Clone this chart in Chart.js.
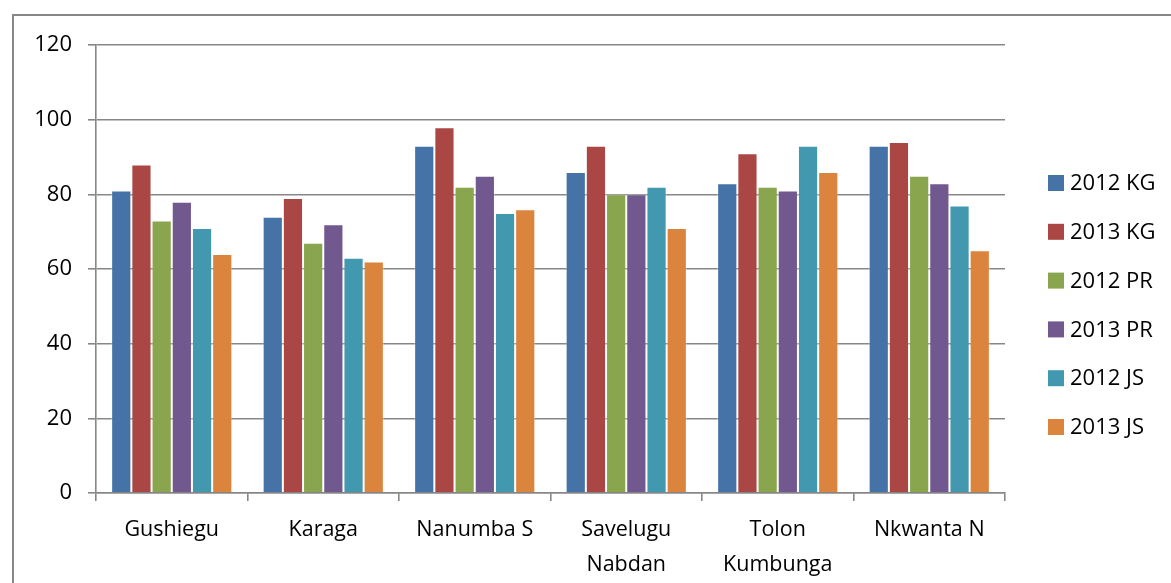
<!DOCTYPE html>
<html>
<head>
<meta charset="utf-8">
<script src="https://cdn.jsdelivr.net/npm/chart.js@4/dist/chart.umd.min.js"></script>
<style>
  html, body { margin: 0; padding: 0; background: #fff; }
  #wrap { width: 1171px; height: 583px; position: relative; }
</style>
</head>
<body>
<div id="wrap"><canvas id="c" width="1171" height="583"></canvas></div>
<script>
// District names (multi-line where the label wraps)
const districts = [
  'Gushiegu',
  'Karaga',
  'Nanumba S',
  ['Savelugu', 'Nabdan'],
  ['Tolon', 'Kumbunga'],
  'Nkwanta N'
];

// Series values per district
const kg2012 = [81, 74, 93, 86, 83, 93];
const kg2013 = [88, 79, 98, 93, 91, 94];
const pr2012 = [73, 67, 82, 80, 82, 85];
const pr2013 = [78, 72, 85, 80, 81, 83];
const js2012 = [71, 63, 75, 82, 93, 77];
const js2013 = [64, 62, 76, 71, 86, 65];

const seriesNames = ['2012 KG', '2013 KG', '2012 PR', '2013 PR', '2012 JS', '2013 JS'];
const seriesColors = ['#4572A7', '#AA4643', '#89A54E', '#71588F', '#4198AF', '#DB843D'];
const seriesValues = [kg2012, kg2013, pr2012, pr2013, js2012, js2013];

const yTicks = [0, 20, 40, 60, 80, 100, 120];

const FONT = '"Open Sans", "Noto Sans", sans-serif';
const GRID = '#878787';

// Outer frame of the chart
const framePlugin = {
  id: 'frame',
  beforeDraw(chart) {
    const ctx = chart.ctx;
    ctx.save();
    ctx.fillStyle = '#fff';
    ctx.fillRect(0, 0, chart.width, chart.height);
    ctx.strokeStyle = GRID;
    ctx.lineWidth = 2;
    ctx.strokeRect(13, 15, chart.width + 20, chart.height + 20);
    ctx.restore();
  }
};

// Legend drawn as a column to the right of the plot
const sideLegend = {
  id: 'sideLegend',
  afterDraw(chart) {
    const ctx = chart.ctx;
    const area = chart.chartArea;
    const x0 = area.right + 43;
    const y0 = area.top + 138;
    const step = 48.8;
    ctx.save();
    ctx.font = '22px ' + FONT;
    ctx.textBaseline = 'middle';
    ctx.textAlign = 'left';
    chart.data.datasets.forEach((ds, i) => {
      const cy = y0 + i * step;
      ctx.fillStyle = ds.backgroundColor;
      ctx.fillRect(x0, cy - 8, 16, 16);
      ctx.fillStyle = '#000';
      ctx.fillText(ds.label, x0 + 22, cy + 1);
    });
    ctx.restore();
  }
};

new Chart(document.getElementById('c'), {
  type: 'bar',
  data: {
    labels: districts,
    datasets: seriesNames.map((name, i) => ({
      label: name,
      data: seriesValues[i],
      backgroundColor: seriesColors[i],
      borderColor: 'rgba(255,255,255,0.35)',
      borderWidth: 1,
      categoryPercentage: 0.8,
      barPercentage: 1.0
    }))
  },
  options: {
    responsive: false,
    animation: false,
    layout: { padding: { left: 0, top: 45, right: 166, bottom: 0 } },
    plugins: {
      legend: { display: false },
      tooltip: { enabled: false }
    },
    scales: {
      x: {
        afterFit(scale) { scale.height = 90; },
        grid: {
          offset: true,
          drawOnChartArea: false,
          drawTicks: true,
          tickLength: 8,
          color: GRID,
          lineWidth: 1.6
        },
        border: { display: true, color: GRID, width: 1.6 },
        ticks: {
          color: '#000',
          padding: 12,
          maxRotation: 0,
          autoSkip: false,
          font: { family: FONT, size: 21.5, lineHeight: 1.6 }
        }
      },
      y: {
        min: 0,
        max: 120,
        afterFit(scale) { scale.width = 96; },
        afterBuildTicks(scale) { scale.ticks = yTicks.map(v => ({ value: v })); },
        grid: {
          color: GRID,
          lineWidth: 1.6,
          drawTicks: true,
          tickLength: 8
        },
        border: { display: true, color: GRID, width: 1.6 },
        ticks: {
          color: '#000',
          padding: 16,
          font: { family: FONT, size: 22 }
        }
      }
    }
  },
  plugins: [framePlugin, sideLegend]
});
</script>
</body>
</html>
